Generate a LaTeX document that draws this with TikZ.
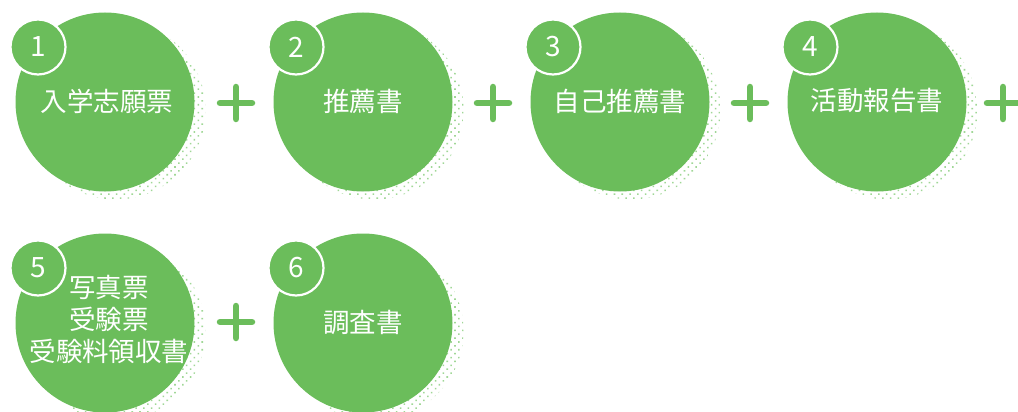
\documentclass[tikz,border=0pt]{standalone}
\usepackage{fontspec}
\setmainfont{Noto Sans CJK JP}
\usetikzlibrary{patterns.meta}
\definecolor{grn}{RGB}{107,189,91}
\definecolor{dotg}{RGB}{160,215,150}
\tikzset{
  big/.style={circle, fill=grn, minimum size=179pt, inner sep=0pt},
  lbl/.style={text=white, font=\fontsize{26.5}{32}\selectfont, align=center, inner sep=0pt},
  shade/.style={circle, minimum size=179pt, inner sep=0pt, pattern={Dots[distance=5.5pt, radius=1.1pt, angle=45]}, pattern color=dotg},
  num/.style={circle, fill=grn, draw=white, line width=2.2pt, minimum size=55pt, inner sep=0pt, text=white, font=\fontsize{28}{28}\selectfont},
  plus/.style={draw=grn, line width=6.5pt, line cap=round}
}
\begin{document}
\begin{tikzpicture}[x=1pt,y=-1pt]
\useasboundingbox (0,0) rectangle (1018,412);
% shadows
\foreach \i/\cx/\cy in {a/105/102, b/363/102, c/620/102, d/877/102, e/105/323, f/363/323}{
  \node[shade] (s\i) at (\cx+11,\cy+8) {};
}
% main circles
\node[big] (c1) at (105,102) {};
\node[big] (c2) at (363,102) {};
\node[big] (c3) at (620,102) {};
\node[big] (c4) at (877,102) {};
\node[big] (c5) at (105,323) {};
\node[big] (c6) at (363,323) {};
% labels
\node[lbl] (t1) at (107,101) {入学志願票};
\node[lbl] (t2) at (363,101) {推薦書};
\node[lbl] (t3) at (620,101) {自己推薦書};
\node[lbl] (t4) at (877,101) {活動報告書};
\node[lbl] (t5) at (109,319) {写真票\\受験票\\受験料領収書};
\node[lbl] (t6) at (363,322) {調査書};
% number badges
\foreach \n in {1,...,6}{
  \node[num] (n\n) at ([shift={(-67,-55)}]c\n.center) {\n};
}
% plus signs
\foreach \p/\px/\py in {1/236/103, 2/493/103, 3/750/103, 4/1003/103, 5/236/322}{
  \coordinate (p\p) at (\px,\py);
  \draw[plus] ([xshift=-16pt]p\p) -- ([xshift=16pt]p\p);
  \draw[plus] ([yshift=-16pt]p\p) -- ([yshift=16pt]p\p);
}
\end{tikzpicture}
\end{document}
